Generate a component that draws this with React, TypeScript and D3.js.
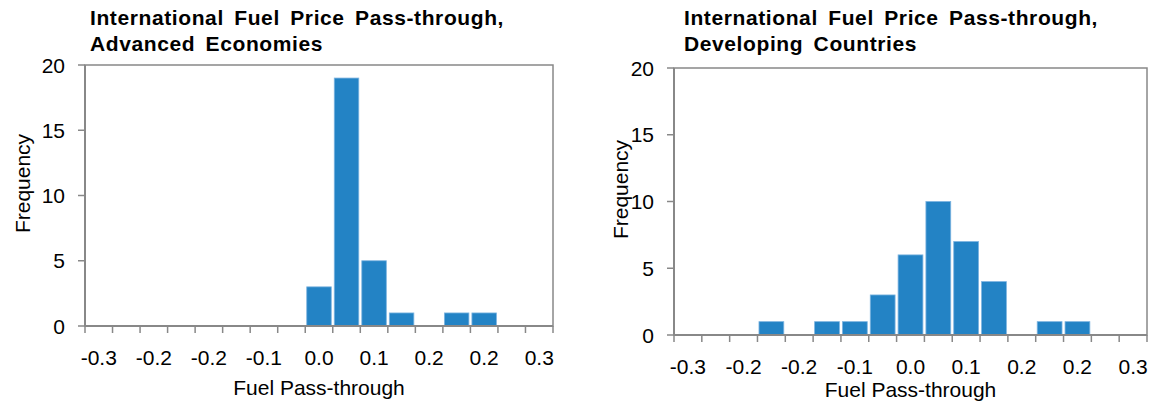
import React from "react";
import * as d3 from "d3";

// Bin categories (17 bins of width 0.0375 from -0.3 to 0.3)
const binCenters: number[] = d3.range(17).map((i) => -0.3 + i * 0.0375);
const tickLabels: string[] = ["-0.3", "-0.2", "-0.2", "-0.1", "0.0", "0.1", "0.2", "0.2", "0.3"];
const yTicks: number[] = [0, 5, 10, 15, 20];

const advancedCounts: number[] = [0, 0, 0, 0, 0, 0, 0, 0, 3, 19, 5, 1, 0, 1, 1, 0, 0];
const developingCounts: number[] = [0, 0, 0, 1, 0, 1, 1, 3, 6, 10, 7, 4, 0, 1, 1, 0, 0];

const titleAdvanced = ["International Fuel Price Pass-through,", "Advanced Economies"];
const titleDeveloping = ["International Fuel Price Pass-through,", "Developing Countries"];

const FONT = "'Liberation Sans', Arial, sans-serif";
const AXIS = "#888888";
const BAR = "#2383C5";
const FS = 21;

type PanelProps = {
  counts: number[];
  title: string[];
  x0: number;
  x1: number;
  yTop: number;
  yBottom: number;
  titleX: number;
  freqX: number;
  xTitleY: number;
};

function Panel({ counts, title, x0, x1, yTop, yBottom, titleX, freqX, xTitleY }: PanelProps) {
  const x = d3
    .scaleBand<number>()
    .domain(d3.range(binCenters.length))
    .range([x0, x1])
    .paddingInner(0)
    .paddingOuter(0);
  const y = d3.scaleLinear().domain([0, 20]).range([yBottom, yTop]);
  const bw = x.bandwidth();
  const tickXs = d3.range(binCenters.length + 1).map((i) => x0 + i * bw);
  return (
    <g>
      {title.map((t, i) => (
        <text
          key={i}
          x={titleX}
          y={25 + i * 26}
          fontFamily={FONT}
          fontWeight="bold"
          fontSize={21}
          letterSpacing={0.6}
          wordSpacing={4}
          fill="#000"
        >
          {t}
        </text>
      ))}
      {/* plot border */}
      <rect x={x0} y={yTop} width={x1 - x0} height={yBottom - yTop} fill="none" stroke={AXIS} strokeWidth={1.5} />
      {/* bars */}
      {counts.map((c, i) =>
        c > 0 ? (
          <rect
            key={i}
            x={(x(i) as number) + 1.5}
            y={y(c)}
            width={bw - 3}
            height={y(0) - y(c)}
            fill={BAR}
            stroke="#7db4e0"
            strokeWidth={0.8}
          />
        ) : null
      )}
      {/* axis lines */}
      <line x1={x0} x2={x1} y1={yBottom} y2={yBottom} stroke={AXIS} strokeWidth={2} />
      <line x1={x0} x2={x0} y1={yTop} y2={yBottom} stroke={AXIS} strokeWidth={2} />
      {/* x ticks */}
      {tickXs.map((tx, i) => (
        <line key={i} x1={tx} x2={tx} y1={yBottom} y2={yBottom + 7} stroke={AXIS} strokeWidth={1.5} />
      ))}
      {/* y ticks */}
      {yTicks.map((v) => (
        <g key={v}>
          <line x1={x0 - 7} x2={x0} y1={y(v)} y2={y(v)} stroke={AXIS} strokeWidth={1.5} />
          <text x={x0 - 20} y={y(v)} dy="0.36em" textAnchor="end" fontFamily={FONT} fontSize={FS} fill="#000">
            {v}
          </text>
        </g>
      ))}
      {/* x tick labels at every other category */}
      {tickLabels.map((lab, k) => (
        <text
          key={k}
          x={(x(k * 2) as number) + bw / 2}
          y={yBottom + 39}
          textAnchor="middle"
          fontFamily={FONT}
          fontSize={FS}
          fill="#000"
        >
          {lab}
        </text>
      ))}
      <text x={(x0 + x1) / 2} y={xTitleY} textAnchor="middle" fontFamily={FONT} fontSize={FS} fill="#000">
        Fuel Pass-through
      </text>
      <text
        transform={`translate(${freqX},${(yTop + yBottom) / 2 - 12}) rotate(-90)`}
        textAnchor="middle"
        dy="0.35em"
        fontFamily={FONT}
        fontSize={FS}
        fill="#000"
      >
        Frequency
      </text>
    </g>
  );
}

export default function App() {
  return (
    <svg width={1151} height={404} style={{ position: "absolute", left: 0, top: 0, background: "#fff" }}>
      <rect width={1151} height={404} fill="#fff" />
      <Panel
        counts={advancedCounts}
        title={titleAdvanced}
        x0={85}
        x1={553}
        yTop={65}
        yBottom={326}
        titleX={90}
        freqX={23}
        xTitleY={395}
      />
      <Panel
        counts={developingCounts}
        title={titleDeveloping}
        x0={674}
        x1={1147}
        yTop={68}
        yBottom={335}
        titleX={684}
        freqX={621}
        xTitleY={397}
      />
    </svg>
  );
}
